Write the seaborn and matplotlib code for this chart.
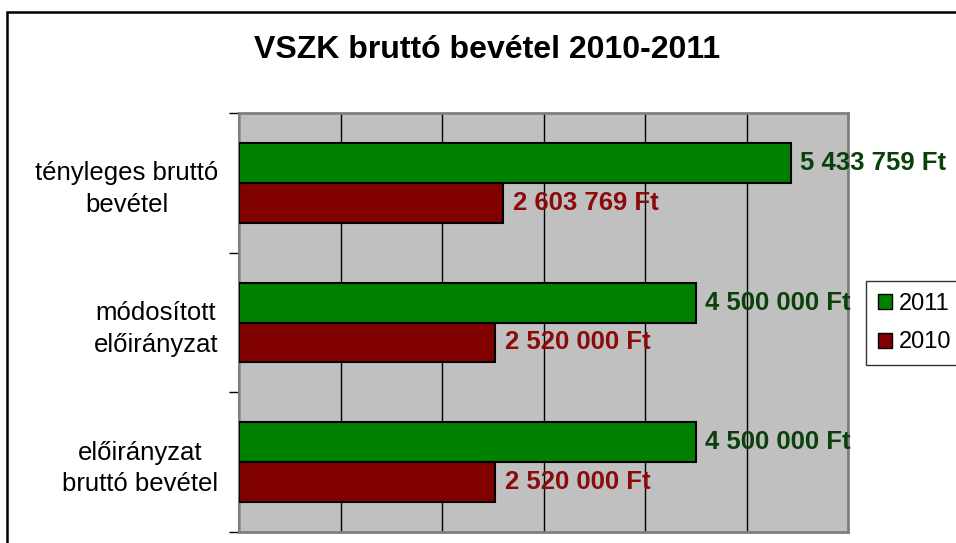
import matplotlib
matplotlib.use("Agg")
import matplotlib.pyplot as plt
import seaborn as sns
import pandas as pd
from matplotlib.patches import Rectangle, Patch

categories = ["tényleges bruttó\nbevétel", "módosított\nelőirányzat", "előirányzat\nbruttó bevétel"]
values_2011 = [5433759, 4500000, 4500000]
values_2010 = [2603769, 2520000, 2520000]
series = ["2011", "2010"]
title = "VSZK bruttó bevétel 2010-2011"

def fmt(v):
    return f"{int(round(v)):,}".replace(",", " ") + " Ft"

df = pd.DataFrame({
    "cat": categories * 2,
    "value": values_2011 + values_2010,
    "year": [series[0]] * 3 + [series[1]] * 3,
})

sns.set_theme(style="white")
plt.rcParams["font.family"] = ["Liberation Sans", "DejaVu Sans"]
plt.rcParams["text.color"] = "black"
plt.rcParams["ytick.color"] = "black"
plt.rcParams["ytick.labelcolor"] = "black"

fig = plt.figure(figsize=(9.56, 5.43), dpi=100)
ax = fig.add_axes([239/956, 1-532/543, (848-239)/956, (532-113)/543])

palette = {"2011": "#008000", "2010": "#800000"}
sns.barplot(data=df, y="cat", x="value", hue="year", hue_order=series,
            palette=palette, orient="y", width=0.57, ax=ax,
            edgecolor="black", linewidth=1.5, saturation=1, legend=False, zorder=3)

ax.set_facecolor("#C0C0C0")
ax.set_xlim(0, 6000000)
ax.set_ylim(2.5, -0.5)
ax.set_xticks(range(0, 6000001, 1000000))
ax.set_xticklabels([])
ax.tick_params(axis="x", length=0)
ax.grid(axis="x", color="black", linewidth=1)
ax.grid(axis="y", visible=False)
ax.set_axisbelow(True)
ax.set_xlabel("")
ax.set_ylabel("")

ax.set_yticks([0, 1, 2])
ax.set_yticklabels(categories, fontsize=18.5, ha="right", multialignment="center",
                   color="black", linespacing=1.4)
ax.tick_params(axis="y", which="major", length=0, pad=15)
for lbl in ax.get_yticklabels():
    lbl.set_y(lbl.get_position()[1])
ax.set_yticks([-0.5, 0.5, 1.5, 2.5], minor=True)
ax.tick_params(axis="y", which="minor", length=7, width=1, color="black", left=True)

for s in ["top", "right", "bottom"]:
    ax.spines[s].set_color("#808080")
    ax.spines[s].set_linewidth(2)
ax.spines["left"].set_color("#808080")
ax.spines["left"].set_linewidth(1.5)

text_colors = {"2011": "#0A400A", "2010": "#8B0A0A"}
for container, yr in zip(ax.containers, series):
    ax.bar_label(container, labels=[fmt(v) for v in container.datavalues],
                 padding=7, fontsize=18.5, fontweight="bold", color=text_colors[yr],
                 zorder=5, clip_on=False)

fig.text(487/956, 1-50/543, title, fontsize=23, fontweight="bold",
         ha="center", va="center", color="black")

handles = [Patch(facecolor=palette[s], edgecolor="black", label=s) for s in series]
leg = fig.legend(handles=handles, loc="upper left", bbox_to_anchor=(866/956, 1-281/543),
                 bbox_transform=fig.transFigure, fontsize=17, frameon=True, fancybox=False,
                 edgecolor="black", handlelength=0.6, handleheight=0.6, handletextpad=0.3,
                 labelspacing=0.7, borderpad=0.5, borderaxespad=0)
leg.get_frame().set_linewidth(1)
for t in leg.get_texts():
    t.set_color("black")

fig.patches.append(Rectangle((7/956, -0.05), 2, (543-12)/543 + 0.05,
                             transform=fig.transFigure, fill=False,
                             edgecolor="black", linewidth=1.8))

fig.savefig("out.png", dpi=100)
